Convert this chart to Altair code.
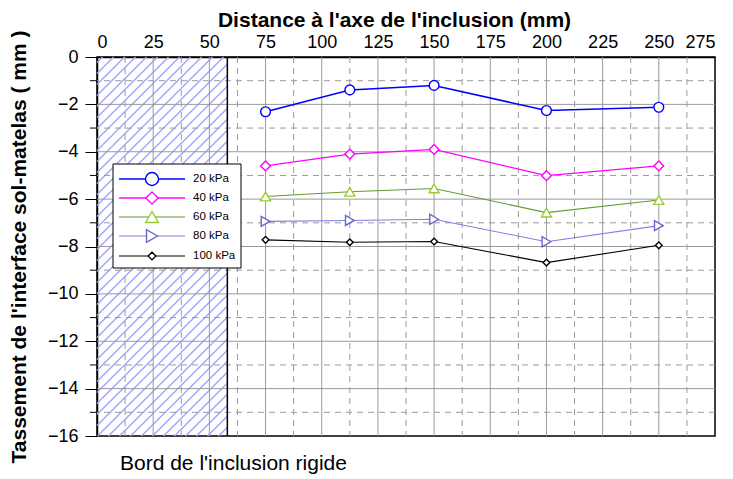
import altair as alt
import pandas as pd
import numpy as np

# ---------------- data ----------------
distance = [75, 112.5, 150, 200, 250]
series_names = ["20 kPa", "40 kPa", "60 kPa", "80 kPa", "100 kPa"]
s20 = [-2.31, -1.39, -1.20, -2.26, -2.12]
s40 = [-4.60, -4.10, -3.90, -5.01, -4.60]
s60 = [-5.89, -5.69, -5.55, -6.57, -6.04]
s80 = [-6.94, -6.90, -6.85, -7.80, -7.12]
s100 = [-7.72, -7.82, -7.79, -8.68, -7.95]
series_values = [s20, s40, s60, s80, s100]

x_ticks = list(range(0, 276, 25))
y_ticks = list(range(0, -17, -2))
x_domain = [0, 275]
y_domain = [-16, 0]
inclusion_edge = 58
x_title = "Distance à l'axe de l'inclusion (mm)"
y_title = "Tassement de l'interface sol-matelas ( mm )"
bottom_label = "Bord de l'inclusion rigide"

# ---------------- styles ----------------
line_colors = ["#0000ff", "#ff00ff", "#669933", "#8080e0", "#000000"]
marker_colors = ["#0000ff", "#ff00ff", "#99cc33", "#6666cc", "#000000"]
shapes = ["circle", "diamond", "triangle-up", "triangle-right", "diamond"]
marker_sizes = [95, 95, 100, 100, 45]
legend_sizes = [170, 150, 160, 160, 60]
line_widths = [1.5, 1.3, 1.1, 1.1, 1.1]

W, H = 618, 379
FONT = "Liberation Sans"

xs = alt.Scale(domain=x_domain, nice=False, zero=False)
ys = alt.Scale(domain=y_domain, nice=False, zero=False)

x_axis = alt.Axis(
    orient="top", values=x_ticks, title=x_title, ticks=False, grid=False,
    labelFontSize=18, labelPadding=6, labelColor="black", labelFont=FONT,
    domainColor="black", domainWidth=1.5,
    titleFontSize=21, titleFont=FONT, titleFontWeight="bold",
    titlePadding=3, titleColor="black", titleX=297)
y_axis = alt.Axis(
    values=y_ticks, title=y_title, grid=False, tickSize=12,
    tickColor="black", tickWidth=1, labelFontSize=18, labelPadding=7,
    labelColor="black", labelFont=FONT, domainColor="black",
    domainWidth=1.5, titleFontSize=21, titleFont=FONT,
    titleFontWeight="bold", titlePadding=18, titleColor="black")


def X(field):
    return alt.X(field, scale=xs, axis=x_axis, title=x_title)


def Y(field):
    return alt.Y(field, scale=ys, axis=y_axis, title=y_title)


# hatch geometry (45 deg in pixel space), clipped to the inclusion rectangle
kx = W / (x_domain[1] - x_domain[0])
ky = H / (y_domain[1] - y_domain[0])
Wp = inclusion_edge * kx
rows = []
step = 11.0
c = step / 2
while c < Wp + H:
    u0 = max(0.0, c - H)
    u1 = min(Wp, c)
    if u1 > u0:
        rows.append({"x": u0 / kx, "y": -(c - u0) / ky,
                     "x2": u1 / kx, "y2": -(c - u1) / ky})
    c += step
hatch_df = pd.DataFrame(rows)

hatch = alt.Chart(hatch_df).mark_rule(color="#a4a4ff", strokeWidth=1.4).encode(
    x=X("x:Q"), y=Y("y:Q"), x2="x2:Q", y2="y2:Q")

# grid
gx_solid = pd.DataFrame({"v": [25 * i for i in range(1, 11)]})
gx_dash = pd.DataFrame({"v": [12.5 + 25 * i for i in range(0, 11)]})
gy_solid = pd.DataFrame({"v": [-2 * i for i in range(1, 8)]})
gy_dash = pd.DataFrame({"v": [-1 - 2 * i for i in range(0, 8)]})

grid_x_solid = alt.Chart(gx_solid).mark_rule(color="#9a9a9a", strokeWidth=1).encode(x=X("v:Q"))
grid_x_dash = alt.Chart(gx_dash).mark_rule(color="#9a9a9a", strokeWidth=1, strokeDash=[6, 5]).encode(x=X("v:Q"))
grid_y_solid = alt.Chart(gy_solid).mark_rule(color="#9a9a9a", strokeWidth=1).encode(y=Y("v:Q"))
grid_y_dash = alt.Chart(gy_dash).mark_rule(color="#9a9a9a", strokeWidth=1, strokeDash=[6, 5]).encode(y=Y("v:Q"))
minor_ticks = alt.Chart(gy_dash).mark_rule(color="black", strokeWidth=1).encode(
    y=Y("v:Q"), x=alt.value(-7), x2=alt.value(0))

edge_df = pd.DataFrame({"x": [inclusion_edge], "y": [y_domain[0]], "y2": [y_domain[1]]})
edge = alt.Chart(edge_df).mark_rule(color="black", strokeWidth=1.5).encode(
    x=X("x:Q"), y=Y("y:Q"), y2="y2:Q")

# series
long_rows = []
for name, vals in zip(series_names, series_values):
    for d, v in zip(distance, vals):
        long_rows.append({"serie": name, "d": d, "t": v})
long_df = pd.DataFrame(long_rows)

series_layers = []
for i, name in enumerate(series_names):
    sub = long_df[long_df["serie"] == name]
    series_layers.append(alt.Chart(sub).mark_line(
        color=line_colors[i], strokeWidth=line_widths[i]).encode(x=X("d:Q"), y=Y("t:Q")))
for i, name in enumerate(series_names):
    sub = long_df[long_df["serie"] == name]
    series_layers.append(alt.Chart(sub).mark_point(
        shape=shapes[i], size=marker_sizes[i], filled=True, fill="white",
        stroke=marker_colors[i], strokeWidth=1.4, opacity=1).encode(x=X("d:Q"), y=Y("t:Q")))

# legend (drawn by hand)
one = pd.DataFrame({"a": [0]})
legend_layers = [alt.Chart(one).mark_rect(fill="white", stroke="black", strokeWidth=1).encode(
    x=alt.value(16), x2=alt.value(144), y=alt.value(107), y2=alt.value(211))]
row_y = [122, 141, 160, 179, 199]
for i, name in enumerate(series_names):
    legend_layers.append(alt.Chart(one).mark_rule(color=line_colors[i], strokeWidth=line_widths[i]).encode(
        x=alt.value(22), x2=alt.value(88), y=alt.value(row_y[i])))
    legend_layers.append(alt.Chart(one).mark_point(
        shape=shapes[i], size=legend_sizes[i], filled=True, fill="white",
        stroke=marker_colors[i], strokeWidth=1.4, opacity=1).encode(
        x=alt.value(55), y=alt.value(row_y[i])))
    legend_layers.append(alt.Chart(pd.DataFrame({"label": [name]})).mark_text(
        align="left", baseline="middle", fontSize=11.5, font=FONT, color="black").encode(
        x=alt.value(96), y=alt.value(row_y[i]), text="label:N"))

bottom = alt.Chart(pd.DataFrame({"label": [bottom_label]})).mark_text(
    align="left", baseline="middle", fontSize=21, font=FONT, color="black").encode(
    x=alt.value(23), y=alt.value(407), text="label:N")

chart = alt.layer(
    hatch, grid_x_solid, grid_x_dash, grid_y_solid, grid_y_dash, minor_ticks, edge,
    *series_layers, *legend_layers, bottom
).properties(
    width=W, height=H,
    background="white",
    autosize=alt.AutoSizeParams(type="none"),
    padding={"left": 89, "top": 49, "right": 10, "bottom": 42},
).configure_view(stroke="black", strokeWidth=1.5)

chart.save("out.html", embed_options={"renderer": "svg", "actions": False})
